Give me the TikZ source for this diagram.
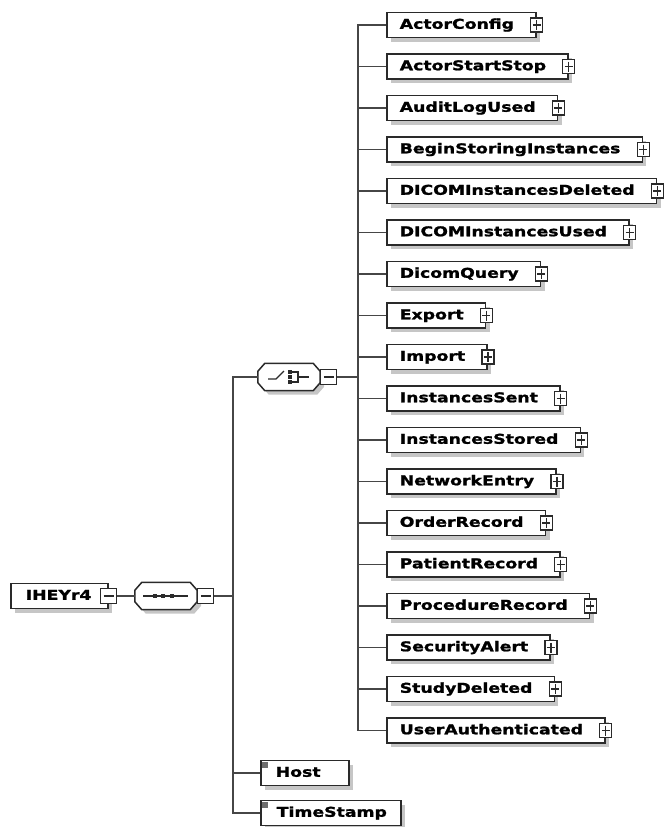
\documentclass[tikz,border=0pt]{standalone}
\usepackage{fontspec}
\newfontfamily\lblfont{DejaVu Sans}[FakeStretch=1.28, FakeBold=1.4]
\usetikzlibrary{shadows}
\definecolor{edgegray}{HTML}{464646}
\definecolor{boxline}{HTML}{2A2A2A}
\definecolor{shadowgray}{HTML}{C6C6C6}
\definecolor{markgray}{HTML}{6E6E6E}
\tikzset{
  shade4/.style={drop shadow={shadow xshift=4pt, shadow yshift=-4pt, fill=shadowgray, opacity=1}},
  elem/.style={draw=boxline, line width=1.5pt, fill=white, anchor=west,
    minimum height=25pt, inner xsep=0pt, inner ysep=0pt,
    text height=10pt, text depth=2.5pt,
    font={\lblfont\bfseries\fontsize{13.5pt}{16pt}\selectfont}, shade4},
  conn/.style={draw=edgegray, line width=1.8pt},
  iconbox/.style={draw=boxline, line width=1.2pt, fill=white, inner sep=0pt},
  plusicon/.style={iconbox, minimum width=12pt, minimum height=14pt,
    path picture={\draw[boxline, line width=1.2pt]
      ([xshift=2pt]path picture bounding box.west) -- ([xshift=-2pt]path picture bounding box.east)
      ([yshift=-2pt]path picture bounding box.north) -- ([yshift=2pt]path picture bounding box.south);}},
  minusicon/.style={iconbox, minimum width=16pt, minimum height=15pt,
    path picture={\draw[boxline, line width=1.2pt]
      ([xshift=3pt]path picture bounding box.west) -- ([xshift=-3pt]path picture bounding box.east);}},
  compframe/.style={draw=boxline, line width=1.5pt, fill=white, shade4},
  compnode/.style={minimum width=62pt, minimum height=27pt, inner sep=0pt},
}
% octagonal compositor outline around a named node
\newcommand{\compoutline}[1]{%
  \path[compframe] ([xshift=7pt]#1.north west) -- ([xshift=-7pt]#1.north east)
    -- ([yshift=-8pt]#1.north east) -- ([yshift=8pt]#1.south east)
    -- ([xshift=-7pt]#1.south east) -- ([xshift=7pt]#1.south west)
    -- ([yshift=8pt]#1.south west) -- ([yshift=-8pt]#1.north west) -- cycle;}
\begin{document}
\begin{tikzpicture}[x=1pt, y=-1pt]
\useasboundingbox (0,0) rectangle (666,827);

% root element
\node[elem] (root) at (10,596) {\makebox[97pt][l]{\hspace*{15pt}IHEYr4}};
\node[minusicon] (rootm) at (root.east) {};

% sequence compositor
\node[compnode] (seq) at (166,596) {};
\compoutline{seq}
\draw[boxline, line width=1.2pt] ([xshift=-23pt]seq.center) -- ([xshift=22pt]seq.center);
\foreach \dx in {-11,-3,6}
  \fill[boxline] ([xshift=\dx pt]seq.center) ++(-2pt,-2pt) rectangle ++(4pt,4pt);
\node[minusicon, anchor=west] (seqm) at (seq.east) {};
\draw[conn] (rootm.east) -- (seq.west);

% choice compositor
\node[compnode] (ch) at (289,377) {};
\compoutline{ch}
\begin{scope}[boxline, line width=1.2pt]
  \draw ([shift={(-21pt,-2pt)}]ch.center) -- ([shift={(-13pt,-2pt)}]ch.center)
        -- ([shift={(-5pt,6pt)}]ch.center);
  \foreach \dy in {-5,0,5}
    \fill ([shift={(1pt,\dy pt)}]ch.center) ++(-1.8pt,-1.8pt) rectangle ++(3.6pt,3.6pt);
  \draw ([shift={(3pt,5pt)}]ch.center) -- ([shift={(9pt,5pt)}]ch.center)
        -- ([shift={(9pt,-5pt)}]ch.center) -- ([shift={(3pt,-5pt)}]ch.center);
  \draw ([shift={(9pt,0pt)}]ch.center) -- ([shift={(20pt,0pt)}]ch.center);
\end{scope}
\node[minusicon, anchor=west] (chm) at (ch.east) {};

% left trunk
\coordinate (trunkL) at (233,596);
\draw[conn] (seqm.east) -- (trunkL);
\draw[conn] (trunkL) |- (ch.west);

% simple elements
\node[elem] (Host) at (260,773) {\makebox[88pt][l]{\hspace*{15pt}Host}};
\node[elem] (TimeStamp) at (260,813) {\hspace*{16pt}TimeStamp\hspace*{14pt}};
\foreach \n in {Host,TimeStamp}{
  \fill[markgray] ([shift={(2pt,-2pt)}]\n.north west) rectangle ++(6pt,-6pt);
  \draw[conn] (trunkL) |- (\n.west);
}

% right trunk and choice children
\coordinate (trunkR) at (358,377);
\draw[conn] (chm.east) -- (trunkR);
\foreach \name [count=\i from 0] in {ActorConfig,ActorStartStop,AuditLogUsed,
    BeginStoringInstances,DICOMInstancesDeleted,DICOMInstancesUsed,DicomQuery,
    Export,Import,InstancesSent,InstancesStored,NetworkEntry,OrderRecord,
    PatientRecord,ProcedureRecord,SecurityAlert,StudyDeleted,UserAuthenticated}{
  \node[elem] (\name) at (386,{25+41.5*\i}) {\hspace*{13pt}\name\hspace*{22pt}};
  \node[plusicon] (p-\name) at (\name.east) {};
  \draw[conn] (trunkR) |- (\name.west);
}
\end{tikzpicture}
\end{document}
